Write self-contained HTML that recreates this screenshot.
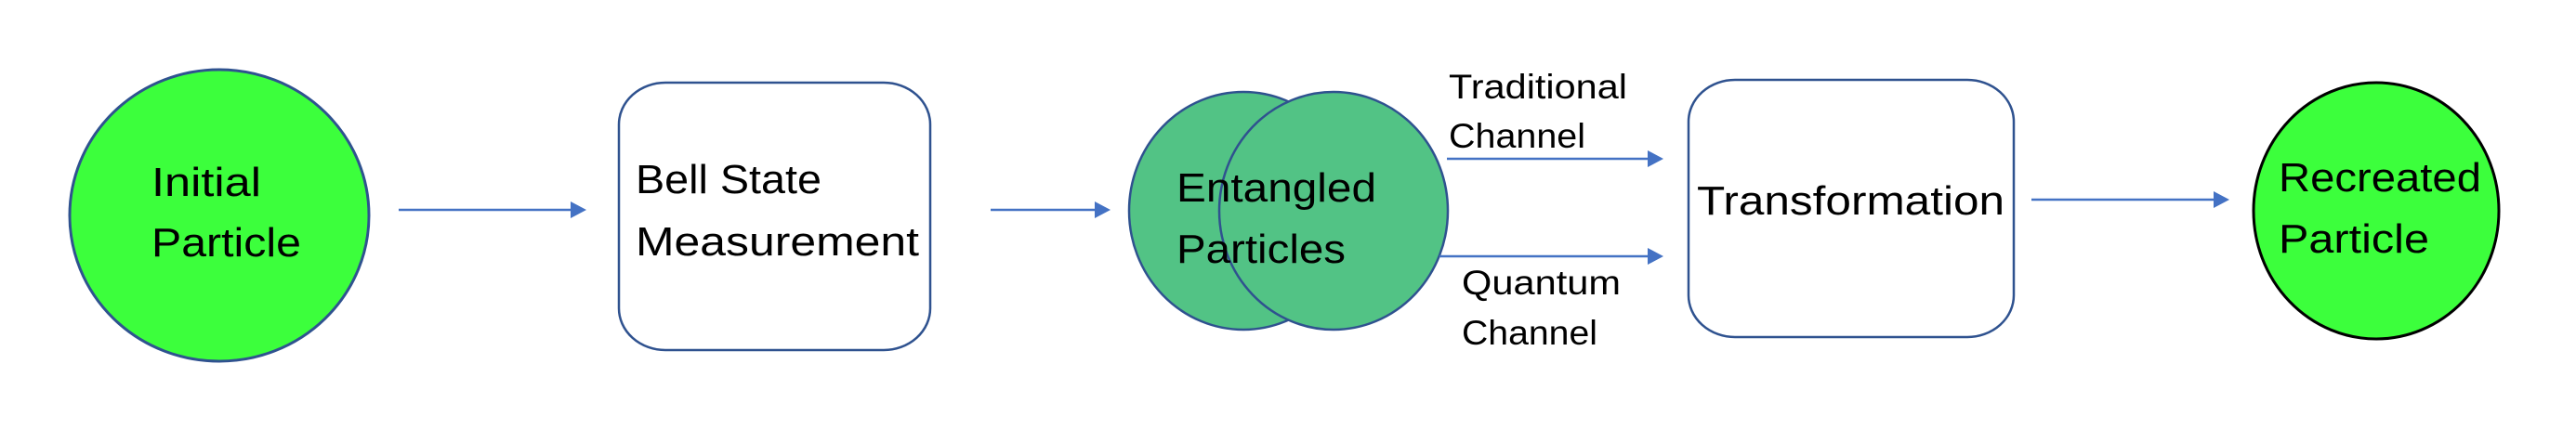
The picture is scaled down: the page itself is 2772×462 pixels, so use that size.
<!DOCTYPE html>
<html><head><meta charset="utf-8"><style>
html,body{margin:0;padding:0;background:#fff;}
svg{display:block;}
text{font-family:"Liberation Sans",sans-serif;fill:#000;}
</style></head><body>
<svg width="2772" height="462" viewBox="0 0 2772 462" xmlns="http://www.w3.org/2000/svg">
<defs>
<marker id="a" markerWidth="10" markerHeight="10" refX="9" refY="5" orient="auto" markerUnits="userSpaceOnUse">
</marker>
</defs>
<rect width="2772" height="462" fill="#fff"/>
<!-- Initial particle -->
<ellipse cx="236" cy="232" rx="161" ry="157" fill="#3CFF3C" stroke="#2F528F" stroke-width="3"/>
<text x="163" y="211" font-size="44" textLength="118" lengthAdjust="spacingAndGlyphs">Initial</text>
<text x="163" y="276" font-size="44" textLength="161" lengthAdjust="spacingAndGlyphs">Particle</text>
<!-- arrow 1 -->
<line x1="429" y1="226" x2="616" y2="226" stroke="#4472C4" stroke-width="2.5"/>
<polygon points="614,217 631,226 614,235" fill="#4472C4"/>
<!-- Bell box -->
<rect x="666" y="89" width="335" height="288" rx="50" ry="45" fill="#fff" stroke="#2F528F" stroke-width="2.5"/>
<text x="684" y="208" font-size="44" textLength="200" lengthAdjust="spacingAndGlyphs">Bell State</text>
<text x="684" y="275" font-size="44" textLength="305" lengthAdjust="spacingAndGlyphs">Measurement</text>
<!-- arrow 2 -->
<line x1="1066" y1="226" x2="1180" y2="226" stroke="#4472C4" stroke-width="2.5"/>
<polygon points="1178,217 1195,226 1178,235" fill="#4472C4"/>
<!-- entangled -->
<ellipse cx="1338" cy="227" rx="123" ry="128" fill="#52C385" stroke="#2F528F" stroke-width="2.5"/>
<ellipse cx="1435" cy="227" rx="123" ry="128" fill="#52C385" stroke="#2F528F" stroke-width="2.5"/>
<text x="1266" y="217" font-size="44" textLength="215" lengthAdjust="spacingAndGlyphs">Entangled</text>
<text x="1266" y="283" font-size="44" textLength="182" lengthAdjust="spacingAndGlyphs">Particles</text>
<!-- traditional channel -->
<line x1="1557" y1="171" x2="1775" y2="171" stroke="#4472C4" stroke-width="2.5"/>
<polygon points="1773,162 1790,171 1773,180" fill="#4472C4"/>
<text x="1559" y="106" font-size="37" textLength="192" lengthAdjust="spacingAndGlyphs">Traditional</text>
<text x="1559" y="159" font-size="37" textLength="147" lengthAdjust="spacingAndGlyphs">Channel</text>
<!-- quantum channel -->
<line x1="1549" y1="276" x2="1775" y2="276" stroke="#4472C4" stroke-width="2.5"/>
<polygon points="1773,267 1790,276 1773,285" fill="#4472C4"/>
<text x="1573" y="317" font-size="37" textLength="171" lengthAdjust="spacingAndGlyphs">Quantum</text>
<text x="1573" y="371" font-size="37" textLength="146" lengthAdjust="spacingAndGlyphs">Channel</text>
<!-- transformation box -->
<rect x="1817" y="86" width="350" height="277" rx="50" ry="45" fill="#fff" stroke="#2F528F" stroke-width="2.5"/>
<text x="1826" y="231" font-size="44" textLength="331" lengthAdjust="spacingAndGlyphs">Transformation</text>
<!-- arrow 3 -->
<line x1="2186" y1="215" x2="2384" y2="215" stroke="#4472C4" stroke-width="2.5"/>
<polygon points="2382,206 2399,215 2382,224" fill="#4472C4"/>
<!-- recreated -->
<ellipse cx="2557" cy="227" rx="132" ry="138" fill="#3CFF3C" stroke="#000" stroke-width="3"/>
<text x="2452" y="206" font-size="44" textLength="218" lengthAdjust="spacingAndGlyphs">Recreated</text>
<text x="2452" y="272" font-size="44" textLength="162" lengthAdjust="spacingAndGlyphs">Particle</text>
</svg>
</body></html>
